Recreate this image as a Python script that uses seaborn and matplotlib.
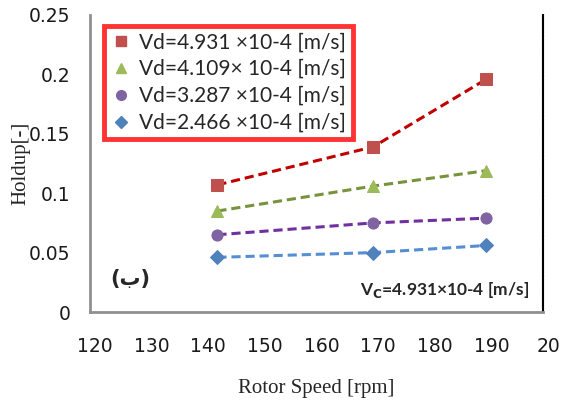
import matplotlib
matplotlib.use("Agg")
import matplotlib.pyplot as plt
import matplotlib.transforms as mtransforms
import seaborn as sns
import pandas as pd
from matplotlib.lines import Line2D

rotor_speed = [142.5, 170, 190]
holdup_4931 = [0.107, 0.139, 0.196]
holdup_4109 = [0.085, 0.106, 0.119]
holdup_3287 = [0.065, 0.075, 0.079]
holdup_2466 = [0.046, 0.050, 0.056]
labels = ["Vd=4.931 ×10-4 [m/s]", "Vd=4.109× 10-4 [m/s]",
          "Vd=3.287 ×10-4 [m/s]", "Vd=2.466 ×10-4 [m/s]"]
xticks = [120, 130, 140, 150, 160, 170, 180, 190, 200]
xticklabels = ["120", "130", "140", "150", "160", "170", "180", "190", "20"]
yticks = [0, 0.05, 0.1, 0.15, 0.2, 0.25]
yticklabels = ["0", "0.05", "0.1", "0.15", "0.2", "0.25"]

sns.set_style("white")
plt.rcParams['font.family'] = ['Lato', 'DejaVu Sans']

fig = plt.figure(figsize=(5.67, 4.01), dpi=100)
ax = fig.add_axes([90/567, 1-312/401, (543-90)/567, (312-15)/401])

series = [holdup_4931, holdup_4109, holdup_3287, holdup_2466]
markers = ["s", "^", "o", "D"]
mcolors = ["#C0504D", "#9BBB59", "#8064A2", "#4F81BD"]
lcolors = ["#C00000", "#77933C", "#7030A0", "#558ED5"]
msizes = [8, 8, 8, 7]

handles = []
for vals, mk, mc, lc, ms, lab in zip(series, markers, mcolors, lcolors, msizes, labels):
    df = pd.DataFrame({"x": rotor_speed, "y": vals})
    sns.lineplot(data=df, x="x", y="y", ax=ax, color=lc, linestyle=(0, (3, 1.6)),
                 linewidth=2.2, marker=mk, markersize=ms, markerfacecolor=mc,
                 markeredgecolor=mc, zorder=3)
    handles.append(Line2D([], [], linestyle='none', marker=mk, markersize=ms - 1,
                          markerfacecolor=mc, markeredgecolor=mc, label=lab))

ax.set_xlim(120, 200)
ax.set_ylim(0, 0.25)
ax.set_xticks(xticks)
ax.set_yticks(yticks)
ax.set_xticklabels(xticklabels, family='DejaVu Sans')
ax.set_yticklabels(yticklabels, family='DejaVu Sans')
ax.tick_params(axis='both', direction='out', length=4, width=1.2, color='#909090',
               labelsize=13.5, labelcolor='#1a1a1a')
ax.tick_params(axis='x', pad=14)
ax.tick_params(axis='y', pad=10)
offset = mtransforms.ScaledTranslation(5/100, 0, fig.dpi_scale_trans)
for lbl in ax.get_xticklabels():
    lbl.set_transform(lbl.get_transform() + offset)

for s in ['left', 'bottom']:
    ax.spines[s].set_color('#909090')
    ax.spines[s].set_linewidth(2)
ax.spines['top'].set_visible(False)
ax.spines['right'].set_color('black')
ax.spines['right'].set_linewidth(1.5)
ax.spines['right'].set_linestyle((0, (1, 0.6)))

ax.set_xlabel("Rotor Speed [rpm]", family='Liberation Serif', fontsize=15)
ax.xaxis.set_label_coords(0.5, -(388 - 312) / 297)
ax.xaxis.label.set_va('center')
ax.set_ylabel("Holdup[-]", family='Liberation Serif', fontsize=15)
ax.yaxis.set_label_coords(-(90 - 21) / 453, 0.5)
ax.yaxis.label.set_va('center')

leg = ax.legend(handles=handles, loc='upper left', bbox_to_anchor=(0.031, 0.963),
                borderaxespad=0, fontsize=15, frameon=True, fancybox=False,
                handletextpad=0.4, handlelength=1.0, labelspacing=0.33,
                borderpad=0.3)
leg.get_frame().set_edgecolor('#FF0000')
leg.get_frame().set_linewidth(3.5)

ax.text(0.045, 0.11, "(ب)", transform=ax.transAxes, fontsize=15, fontweight='bold',
        family='DejaVu Sans', va='center', ha='left')
ax.text(0.97, 0.075, r"V$_\mathbf{C}$=4.931×10-4 [m/s]", transform=ax.transAxes,
        fontsize=12.5, fontweight='bold', va='center', ha='right')

fig.savefig("out.png", dpi=100)
